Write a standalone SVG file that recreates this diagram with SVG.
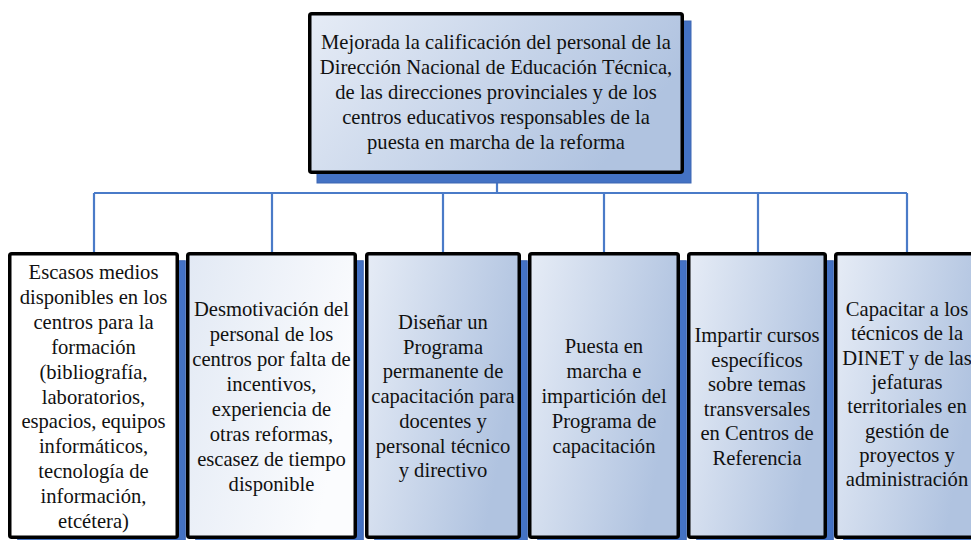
<svg xmlns="http://www.w3.org/2000/svg" width="971" height="540" viewBox="0 0 971 540">
<defs>
<linearGradient id="gBlue" x1="0" y1="0" x2="1" y2="0.35">
<stop offset="0" stop-color="#e6ecf6"/>
<stop offset="1" stop-color="#b0c3e0"/>
</linearGradient>
<linearGradient id="gLight" x1="0" y1="0" x2="1" y2="0.4">
<stop offset="0" stop-color="#e2e9f4"/>
<stop offset="1" stop-color="#fbfcfe"/>
</linearGradient>
<style>
.sh{fill:#4472c4;stroke:#3d67b3;stroke-width:1}
.bx{stroke:#000;stroke-width:3.5}
.lbl{font-size:20.6px;fill:#111;text-anchor:middle}
.c{fill:none;stroke:#4a7bc8;stroke-width:2.2}
</style>
</defs>
<rect width="971" height="540" fill="#fff"/>
<g id="connectors">
<line class="c" x1="497" y1="174" x2="497" y2="193"/>
<line class="c" x1="94" y1="193" x2="907" y2="193"/>
<line class="c" x1="94" y1="193" x2="94" y2="253"/>
<line class="c" x1="272" y1="193" x2="272" y2="253"/>
<line class="c" x1="443" y1="193" x2="443" y2="253"/>
<line class="c" x1="604" y1="193" x2="604" y2="253"/>
<line class="c" x1="758" y1="193" x2="758" y2="253"/>
<line class="c" x1="907" y1="193" x2="907" y2="253"/>
</g>
<g id="top">
<rect class="sh" x="317" y="21" width="374" height="162"/>
<rect class="bx" x="309.75" y="13.75" width="372.5" height="158.5" rx="2" fill="url(#gBlue)"/>
<text class="lbl" style="font-family:'Liberation Serif',serif"><tspan x="496" y="49">Mejorada la calificación del personal de la</tspan><tspan x="496" y="74">Dirección Nacional de Educación Técnica,</tspan><tspan x="496" y="99">de las direcciones provinciales y de los</tspan><tspan x="496" y="124">centros educativos responsables de la</tspan><tspan x="496" y="149">puesta en marcha de la reforma</tspan></text>
</g>
<g id="n1">
<rect class="sh" x="17.75" y="260.75" width="167.5" height="283.5"/>
<rect class="bx" x="9.75" y="253.75" width="167.5" height="283.5" rx="2" fill="#fff"/>
<text class="lbl" style="font-family:'Liberation Serif',serif"><tspan x="93.5" y="279">Escasos medios</tspan><tspan x="93.5" y="303.9">disponibles en los</tspan><tspan x="93.5" y="328.8">centros para la</tspan><tspan x="93.5" y="353.7">formación</tspan><tspan x="93.5" y="378.6">(bibliografía,</tspan><tspan x="93.5" y="403.5">laboratorios,</tspan><tspan x="93.5" y="428.4">espacios, equipos</tspan><tspan x="93.5" y="453.3">informáticos,</tspan><tspan x="93.5" y="478.2">tecnología de</tspan><tspan x="93.5" y="503.1">información,</tspan><tspan x="93.5" y="528">etcétera)</tspan></text>
</g>
<g id="n2">
<rect class="sh" x="195.75" y="260.75" width="167.5" height="283.5"/>
<rect class="bx" x="187.75" y="253.75" width="167.5" height="283.5" rx="2" fill="url(#gLight)"/>
<text class="lbl" style="font-family:'Liberation Serif',serif"><tspan x="271.5" y="316">Desmotivación del</tspan><tspan x="271.5" y="341">personal de los</tspan><tspan x="271.5" y="366">centros por falta de</tspan><tspan x="271.5" y="391">incentivos,</tspan><tspan x="271.5" y="416">experiencia de</tspan><tspan x="271.5" y="441">otras reformas,</tspan><tspan x="271.5" y="466">escasez de tiempo</tspan><tspan x="271.5" y="491">disponible</tspan></text>
</g>
<g id="n3">
<rect class="sh" x="374.75" y="260.75" width="152.5" height="283.5"/>
<rect class="bx" x="366.75" y="253.75" width="152.5" height="283.5" rx="2" fill="url(#gBlue)"/>
<text class="lbl" style="font-family:'Liberation Serif',serif"><tspan x="443" y="329">Diseñar un</tspan><tspan x="443" y="353.7">Programa</tspan><tspan x="443" y="378.4">permanente de</tspan><tspan x="443" y="403.1">capacitación para</tspan><tspan x="443" y="427.8">docentes y</tspan><tspan x="443" y="452.5">personal técnico</tspan><tspan x="443" y="477.2">y directivo</tspan></text>
</g>
<g id="n4">
<rect class="sh" x="537.75" y="260.75" width="148.5" height="283.5"/>
<rect class="bx" x="529.75" y="253.75" width="148.5" height="283.5" rx="2" fill="url(#gBlue)"/>
<text class="lbl" style="font-family:'Liberation Serif',serif"><tspan x="604" y="353">Puesta en</tspan><tspan x="604" y="378">marcha e</tspan><tspan x="604" y="403">impartición del</tspan><tspan x="604" y="428">Programa de</tspan><tspan x="604" y="453">capacitación</tspan></text>
</g>
<g id="n5">
<rect class="sh" x="696.75" y="260.75" width="136.5" height="283.5"/>
<rect class="bx" x="688.75" y="253.75" width="136.5" height="283.5" rx="2" fill="url(#gBlue)"/>
<text class="lbl" style="font-family:'Liberation Serif',serif"><tspan x="757" y="342">Impartir cursos</tspan><tspan x="757" y="366.5">específicos</tspan><tspan x="757" y="391">sobre temas</tspan><tspan x="757" y="415.5">transversales</tspan><tspan x="757" y="440">en Centros de</tspan><tspan x="757" y="464.5">Referencia</tspan></text>
</g>
<g id="n6">
<rect class="sh" x="843.75" y="260.75" width="142.5" height="283.5"/>
<rect class="bx" x="835.75" y="253.75" width="142.5" height="283.5" rx="2" fill="url(#gBlue)"/>
<text class="lbl" style="font-family:'Liberation Serif',serif"><tspan x="907" y="316">Capacitar a los</tspan><tspan x="907" y="340.3">técnicos de la</tspan><tspan x="907" y="364.6">DINET y de las</tspan><tspan x="907" y="388.9">jefaturas</tspan><tspan x="907" y="413.2">territoriales en</tspan><tspan x="907" y="437.5">gestión de</tspan><tspan x="907" y="461.8">proyectos y</tspan><tspan x="907" y="486.1">administración</tspan></text>
</g>
</svg>
